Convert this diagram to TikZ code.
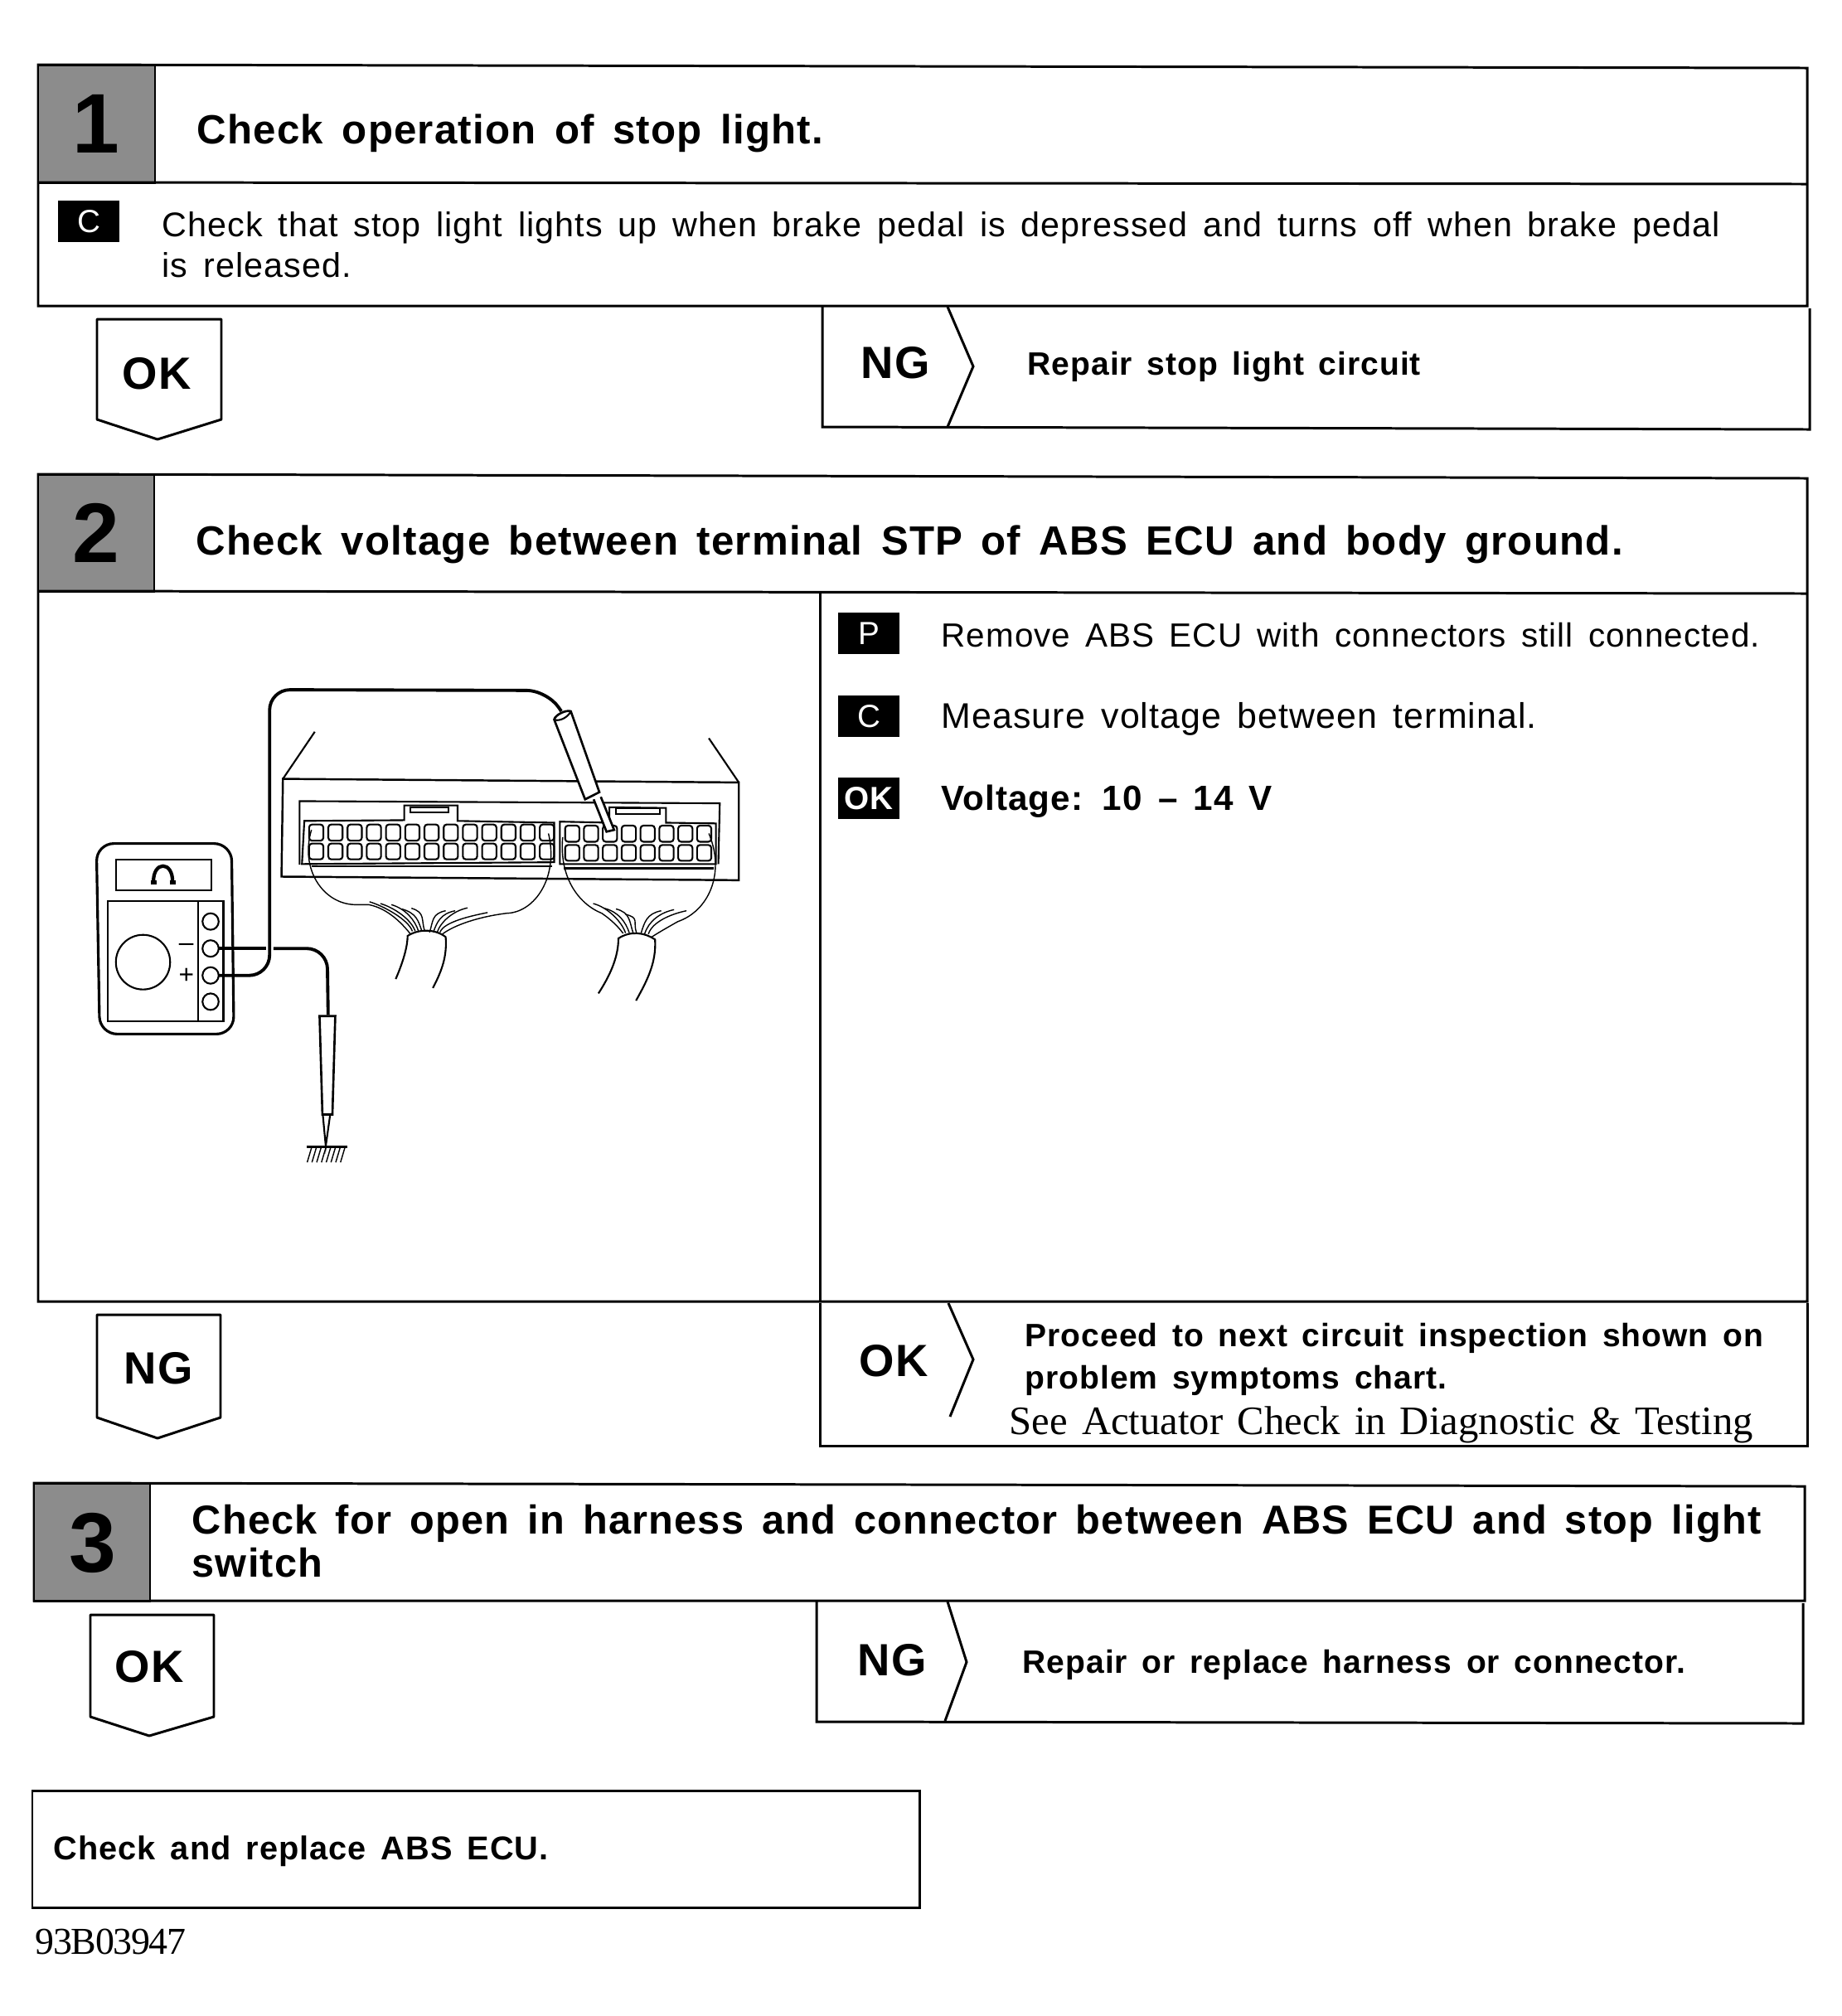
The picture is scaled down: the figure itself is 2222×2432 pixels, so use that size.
\documentclass[tikz,border=0pt]{standalone}
\usepackage{fontspec}
\setmainfont{Liberation Sans}
\newfontfamily\headfont[LetterSpace=2.5,WordSpace=1.5]{Liberation Sans}
\newfontfamily\bodyfont[LetterSpace=2.5,WordSpace=1.5]{Liberation Sans}
\newfontfamily\notefont[WordSpace=1.4]{Liberation Serif}
\newfontfamily\codefont[LetterSpace=-3]{Liberation Serif}
\usetikzlibrary{positioning, calc}
\definecolor{mangray}{gray}{0.55}

\tikzset{
  frame/.style={draw=black, line width=0.85pt},
  stepcell/.style={fill=mangray, draw=black, line width=0.85pt},
  stepnum/.style={font=\fontsize{29}{29}\headfont\bfseries},
  headtext/.style={anchor=west, align=left, inner sep=0pt, font=\fontsize{14}{14.9}\headfont\bfseries},
  bodytext/.style={anchor=west, align=left, inner sep=0pt, font=\fontsize{11.75}{13.8}\bodyfont},
  boldtext/.style={anchor=west, align=left, inner sep=0pt, font=\fontsize{11.1}{14.6}\headfont\bfseries},
  flagtext/.style={font=\fontsize{15.5}{15.5}\headfont\bfseries},
  tagbox/.style={fill=black, text=white, inner sep=0pt, minimum width=0.74cm, minimum height=0.5cm, font=\fontsize{11}{11}\selectfont},
  wire/.style={line width=1.1pt, rounded corners=7pt},
  fine/.style={line width=0.4pt},
  part/.style={line width=0.6pt}
}

\begin{document}
\begin{tikzpicture}[x=0.01cm, y=-0.01cm]
\useasboundingbox (0,0) rectangle (2222,2432);
\fill[white] (0,0) rectangle (2222,2432);

% ---- step 1 ----
\draw[frame] (46,78) -- (2180,82) -- (2180,369) -- (46,369) -- cycle;
\draw[stepcell] (46,78) rectangle (187,220);
\draw[frame] (46,220) -- (2180,222);
\node[stepnum] (num1) at (116,149) {1};
\node[headtext] (head1) at (237,161) {Check operation of stop light.};
\node[tagbox] (tagc1) at (107,267) {C};
\node[bodytext] (body1) at (195,295) {Check that stop light lights up when brake pedal is depressed and turns off when brake pedal\\is released.};
\draw[frame] (992,370) -- (992,515) -- (2183,518) -- (2183,372);
\draw[frame] (1143,370) -- (1174,442) -- (1143,515);
\node[flagtext] (ng1) at (1080,438) {NG};
\node[boldtext] (fix1) at (1239,442) {Repair stop light circuit};
\draw[frame, line join=round] (117,385) -- (267,385) -- (267,506) -- (190,530) -- (117,506) -- cycle;
\node[flagtext] (ok1) at (189,451) {OK};

% ---- step 2 ----
\draw[frame] (46,572) -- (2180,577) -- (2180,1570) -- (46,1570) -- cycle;
\draw[stepcell] (46,572) rectangle (186,713);
\draw[frame] (46,713) -- (2180,716);
\draw[frame] (989,713) -- (989,1570);
\node[stepnum] (num2) at (116,643) {2};
\node[headtext] (head2) at (236,657) {Check voltage between terminal STP of ABS ECU and body ground.};
\node[tagbox] (tagp2) at (1048,764) {P};
\node[bodytext, font=\fontsize{11.5}{13.8}\bodyfont] (bodyp2) at (1135,766) {Remove ABS ECU with connectors still connected.};
\node[tagbox] (tagc2) at (1048,864) {C};
\node[bodytext, font=\fontsize{12.2}{13.8}\bodyfont] (bodyc2) at (1135,867) {Measure voltage between terminal.};
\node[tagbox, font=\fontsize{11}{11}\bfseries] (tagok2) at (1048,963) {OK};
\node[boldtext, font=\fontsize{12}{14.6}\headfont\bfseries] (volt2) at (1135,967) {Voltage: 10 \textendash{} 14 V};

% ---- meter and ECU, zoomed crop units ----
\begin{scope}[shift={(60,780)}, x=0.00574cm, y=-0.00434cm]
% meter
\draw[line width=0.9pt, rounded corners=6pt] (98,548) -- (382,548) -- (387,1078) -- (105,1078) -- cycle;
\draw[part] (140,592) rectangle (340,678);
\draw[line width=1.2pt] (218,657) .. controls (216,595) and (260,595) .. (258,657);
\draw[line width=1.4pt] (212,657) -- (224,657) (252,657) -- (264,657);
\draw[part] (122,708) rectangle (365,1042);
\draw[part] (312,708) -- (312,1042);
\draw[part] (196,878) ellipse (57 and 76);
\foreach \yy in {765,840,915,988}
  \draw[part] (338,\yy) ellipse (17 and 23);
\node[inner sep=0pt, font=\fontsize{9}{9}\selectfont] (minus) at (287,838) {\textendash};
\node[inner sep=0pt, font=\fontsize{9}{9}\selectfont] (plus) at (287,917) {+};
% leads
\draw[wire] (355,840) -- (455,840);
\draw[wire] (470,840) -- (583,840) -- (585,1025);
\draw[wire] (355,915) -- (462,915) -- (462,120) -- (1045,122) -- (1075,180);
% ECU
\draw[part] (557,237) -- (490,368);
\draw[part] (1385,255) -- (1448,378);
\draw[line width=0.7pt] (490,368) -- (1448,378) -- (1448,650) -- (487,640) -- cycle;
\draw[part] (525,607) -- (525,430) -- (1408,436) -- (1405,605);
\draw[part] (535,485) -- (745,483) -- (745,442) -- (857,442) -- (857,485) -- (1060,490) -- (1060,600) -- (530,605) -- cycle;
\draw[part] (757,447) rectangle (838,462);
\draw[part] (1072,487) -- (1176,490) -- (1176,447) -- (1295,449) -- (1295,490) -- (1400,492) -- (1400,605) -- (1072,605) -- cycle;
\draw[part] (1190,450) rectangle (1282,465);
\draw[part] (550,612) -- (1055,612) (1080,617) -- (1395,617);
\foreach \i in {0,...,12} {
  \draw[part, rounded corners=1pt] ({545+40.4*\i},495) rectangle ++(30,45);
  \draw[part, rounded corners=1pt] ({545+40.4*\i},548) rectangle ++(30,44);
}
\foreach \i in {0,...,7} {
  \draw[part, rounded corners=1pt] ({1083+39.6*\i},498) rectangle ++(30,45);
  \draw[part, rounded corners=1pt] ({1083+39.6*\i},552) rectangle ++(30,44);
}
% harness, left
\draw[fine] (550,510) .. controls (525,620) and (575,715) .. (640,718) -- (670,718) .. controls (710,728) and (740,770) .. (757,798);
\draw[fine] (1048,520) .. controls (1070,640) and (1020,740) .. (960,742) .. controls (900,752) and (850,775) .. (825,800);
\foreach \xa/\ya/\xb in {672/710/762,695/715/768,718/718/775,740/730/782,760/728/788}
  \draw[fine] (\xa,\ya) .. controls ({\xa+30},{\ya+12}) and ({\xb-8},760) .. (\xb,792);
\foreach \xa/\ya/\xb in {832/735/798,852/735/806,878/727/814,920/740/820}
  \draw[fine] (\xa,\ya) .. controls ({\xa-30},{\ya+8}) and ({\xb+8},765) .. (\xb,795);
\draw[part] (727,925) .. controls (745,870) and (752,830) .. (752,805) .. controls (775,785) and (810,785) .. (832,808) .. controls (835,860) and (825,900) .. (805,950);
% harness, right
\draw[fine] (1078,530) .. controls (1070,640) and (1110,715) .. (1160,742) .. controls (1180,760) and (1195,780) .. (1205,798);
\draw[fine] (1385,520) .. controls (1420,630) and (1385,735) .. (1320,765) .. controls (1300,780) and (1280,795) .. (1265,808);
\foreach \xa/\ya/\xb in {1142/715/1210,1165/728/1218,1190/730/1226,1210/745/1233}
  \draw[fine] (\xa,\ya) .. controls ({\xa+30},{\ya+10}) and ({\xb-8},765) .. (\xb,797);
\foreach \xa/\ya/\xb in {1285/735/1242,1312/732/1250,1338/735/1258}
  \draw[fine] (\xa,\ya) .. controls ({\xa-30},{\ya+8}) and ({\xb+8},765) .. (\xb,800);
\draw[part] (1153,965) .. controls (1180,910) and (1195,860) .. (1195,812) .. controls (1220,790) and (1250,795) .. (1272,815) .. controls (1275,880) and (1255,930) .. (1232,985);
% probes
\draw[line width=0.75pt, fill=white] (1060,203) .. controls (1062,190) and (1085,175) .. (1095,180) -- (1155,405) -- (1125,425) -- cycle;
\draw[part] (1060,203) .. controls (1072,210) and (1090,195) .. (1095,180);
\draw[line width=0.75pt, fill=white] (1143,425) -- (1170,515) -- (1186,510) -- (1158,418);
\draw[line width=0.75pt, fill=white] (567,1028) -- (600,1028) -- (594,1302) -- (573,1302) -- cycle;
\draw[part] (574,1305) -- (580,1390) -- (589,1305);
\draw[line width=1pt] (540,1392) -- (625,1392);
\foreach \xa in {550,560,...,625}
  \draw[fine] (\xa,1395) -- ({\xa-9},1435);
\end{scope}

% ---- step 2 results ----
\draw[frame] (989,1572) -- (989,1744) -- (2180,1744) -- (2180,1572);
\draw[frame] (1144,1572) -- (1174,1640) -- (1146,1709);
\node[flagtext] (ok2) at (1078,1642) {OK};
\node[boldtext, anchor=north west] (next2) at (1236,1595) {Proceed to next circuit inspection shown on\\problem symptoms chart.};
\node[anchor=west, inner sep=0pt, font=\fontsize{13.85}{14.2}\notefont] (see2) at (1217,1719) {See Actuator Check in Diagnostic \& Testing};
\draw[frame, line join=round] (117,1586) -- (266,1586) -- (266,1710) -- (190,1735) -- (117,1710) -- cycle;
\node[flagtext] (ng2) at (191,1651) {NG};

% ---- step 3 ----
\draw[frame] (41,1789) -- (2177,1793) -- (2177,1931) -- (41,1931) -- cycle;
\draw[stepcell] (41,1789) rectangle (181,1931);
\node[stepnum] (num3) at (112,1861) {3};
\node[headtext, font=\fontsize{13.85}{14.9}\headfont\bfseries] (head3) at (231,1859) {Check for open in harness and connector between ABS ECU and stop light\\switch};
\draw[frame] (985,1932) -- (985,2077) -- (2175,2079) -- (2175,1934);
\draw[frame] (1143,1932) -- (1166,2005) -- (1140,2076);
\node[flagtext] (ng3) at (1076,2003) {NG};
\node[boldtext] (fix3) at (1233,2008) {Repair or replace harness or connector.};
\draw[frame, line join=round] (109,1948) -- (258,1948) -- (258,2071) -- (180,2094) -- (109,2071) -- cycle;
\node[flagtext] (ok3) at (180,2011) {OK};

% ---- last box ----
\draw[frame] (39,2160) rectangle (1109,2301);
\node[boldtext, font=\fontsize{11.3}{14.6}\headfont\bfseries] (last) at (64,2233) {Check and replace ABS ECU.};
\node[anchor=west, inner sep=0pt, font=\fontsize{13.05}{13.5}\codefont] (code) at (42,2342) {93B03947};
\end{tikzpicture}
\end{document}
